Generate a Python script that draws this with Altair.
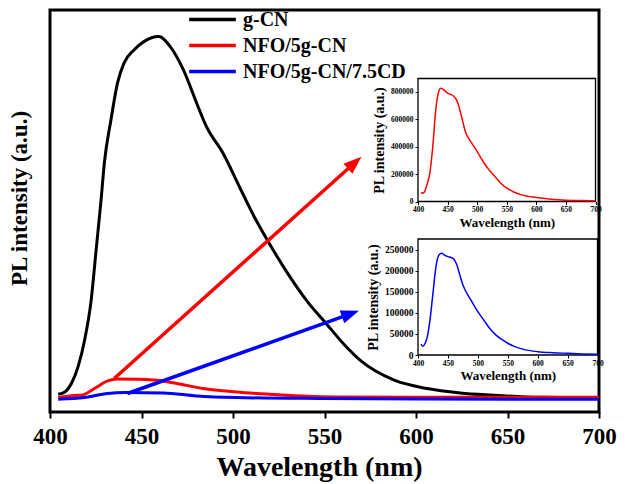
import altair as alt
import pandas as pd

FONT = "Liberation Serif"

series_names = ["g-CN", "NFO/5g-CN", "NFO/5g-CN/7.5CD"]
series_colors = ["#000000", "#ff0000", "#0000ff"]

# main panel (a.u.)
gcn_wl = [404.5, 408.1, 411.7, 415.3, 418.9, 422.5, 425.2, 427.9, 429.7, 433.3, 436.9, 440.5,
          445.9, 451.3, 459.4, 465.7, 472.9, 480.1, 485.5, 494.5, 503.5, 511.6, 519.7, 530.5,
          541.3, 550.3, 561.1, 570.1, 588.1, 606.0, 624.1, 642.1, 660.0, 678.0, 697.8, 700.0]
gcn_pl = [193000, 292000, 654000, 1367000, 2516000, 4236000, 6386000, 8536000, 10127000,
          11976000, 13567000, 14427000, 14986000, 15342000, 15557000, 15127000, 14126000,
          12707000, 11687000, 10557000, 9107000, 7817000, 6687000, 5311000, 4107000, 3290000,
          2301000, 1613000, 796000, 439000, 249000, 151000, 77000, 52000, 22000, 22000]

nfo_wl = [404.5, 413.5, 417.1, 424.3, 431.5, 436.9, 447.7, 458.5, 469.3, 483.7, 501.6, 519.7,
          537.7, 555.7, 600.0, 650.0, 700.0]
nfo_pl = [52000, 140000, 150000, 439000, 765000, 851000, 838000, 796000, 654000, 439000,
          292000, 194000, 120000, 77000, 64000, 64000, 64000]

cd_wl = [404.5, 418.9, 431.5, 440.5, 462.1, 480.1, 501.6, 550.0, 600.0, 700.0]
cd_pl = [-21000, 52000, 224000, 267000, 249000, 120000, 52000, 9000, -15000, -21000]

# insets
inset_nfo_wl = [405, 410, 415, 420, 425, 430, 435, 438.5, 445, 450, 455, 460, 465, 470, 475,
                480, 490, 500, 510, 520, 530, 540, 550, 560, 575, 600, 625, 650, 675, 700]
inset_nfo_pl = [60600, 65000, 121000, 206000, 400000, 667000, 800000, 824000, 807000, 788000,
                780000, 768000, 739000, 679000, 594000, 509000, 430000, 364000, 291000, 230000,
                182000, 133000, 97000, 73000, 48000, 29000, 17000, 10000, 7000, 5000]

inset_cd_wl = [405, 408, 412, 415, 420, 425, 430, 435, 439.5, 445, 450, 455, 460, 465, 470, 475,
               480, 490, 500, 510, 520, 530, 540, 550, 560, 575, 600, 625, 650, 675, 700]
inset_cd_pl = [26000, 21000, 28000, 40000, 83000, 147000, 210000, 238000, 242000, 237000,
               234000, 232000, 228000, 214000, 190000, 167000, 151000, 127000, 103000, 83000,
               63000, 48000, 37000, 28000, 21000, 14000, 8000, 5500, 4000, 2500, 1500]

x_ticks = [400, 450, 500, 550, 600, 650, 700]
inset_nfo_yticks = [0, 200000, 400000, 600000, 800000]
inset_cd_yticks = [0, 50000, 100000, 150000, 200000, 250000]

# arrows (main-panel data units)
arrow_wl_start = [435.1, 442.3]
arrow_pl_start = [869000, 224000]
arrow_wl_head = [566.5, 564.2]
arrow_pl_head = [10140000, 3646000]
arrow_angle = [48.4, 70.5]
arrow_color = ["#ff0000", "#0000ff"]

W, H = 549, 402
HEAD = "M0,-1L0.75,1L-0.75,1Z"

rows = []
for name, wl, pl in zip(series_names, [gcn_wl, nfo_wl, cd_wl], [gcn_pl, nfo_pl, cd_pl]):
    for a, b in zip(wl, pl):
        rows.append({"wl": a, "pl": b, "sample": name})
main_df = pd.DataFrame(rows)

x_main = alt.X("wl:Q", scale=alt.Scale(domain=[400, 700], nice=False, zero=False),
               axis=alt.Axis(values=x_ticks, format="d", title="Wavelength (nm)", domain=False,
                             grid=False, tickSize=6, tickWidth=2, tickColor="black",
                             labelFont=FONT, labelFontSize=23, labelFontWeight="bold",
                             labelColor="black", labelPadding=7, labelFlush=False,
                             labelOverlap=False, titleFont=FONT, titleFontSize=28,
                             titleFontWeight="bold", titleColor="black", titlePadding=5,
                             titleX=269))
y_main = alt.Y("pl:Q", scale=alt.Scale(domain=[-570000, 16700000], nice=False, zero=False),
               axis=alt.Axis(title="PL intensity (a.u.)", labels=False, ticks=False,
                             domain=False, grid=False, titleFont=FONT, titleFontSize=23,
                             titleFontWeight="bold", titleColor="black", titlePadding=19,
                             titleY=188))

main_lines = alt.Chart(main_df).mark_line(strokeWidth=3, interpolate="monotone").encode(
    x=x_main, y=y_main,
    color=alt.Color("sample:N", scale=alt.Scale(domain=series_names, range=series_colors),
                    legend=alt.Legend(orient="none", legendX=147, legendY=-6, title=None,
                                      symbolType="M-1.75,0H1.75", symbolSize=711,
                                      symbolStrokeWidth=3.5, labelFont=FONT, labelFontSize=20,
                                      labelFontWeight="bold", labelColor="black", labelOffset=15,
                                      labelLimit=400, rowPadding=0, padding=0)),
)

main_layers = [main_lines]
for i in range(2):
    adf = pd.DataFrame({"wl": [arrow_wl_start[i], arrow_wl_head[i]],
                        "pl": [arrow_pl_start[i], arrow_pl_head[i]]})
    main_layers.append(alt.Chart(adf).mark_line(color=arrow_color[i], strokeWidth=3.5)
                       .encode(x="wl:Q", y="pl:Q"))
    hdf = pd.DataFrame({"wl": [arrow_wl_head[i]], "pl": [arrow_pl_head[i]]})
    main_layers.append(alt.Chart(hdf).mark_point(shape=HEAD, filled=True, size=324,
                                                 angle=arrow_angle[i], color=arrow_color[i],
                                                 opacity=1, strokeWidth=0)
                       .encode(x="wl:Q", y="pl:Q"))
main_chart = alt.layer(*main_layers)


def inset(wl, pl, color, xr, yr, ydom, yticks, xoff, yoff, ylab):
    df = pd.DataFrame({"wl": wl, "pl": pl})
    line = alt.Chart(df).mark_line(color=color, strokeWidth=1.5, interpolate="monotone").encode(
        x=alt.X("wl:Q", scale=alt.Scale(domain=[400, 700], range=xr, nice=False, zero=False),
                axis=alt.Axis(orient="bottom", offset=xoff, values=x_ticks, format="d",
                              title="Wavelength (nm)", grid=False, domain=False, tickSize=3,
                              tickWidth=1, tickColor="black", labelFont=FONT, labelFontSize=7.5,
                              labelFontWeight="bold", labelColor="black", labelPadding=1,
                              labelFlush=False, labelOverlap=False, titleFont=FONT,
                              titleFontSize=13, titleFontWeight="bold", titleColor="black",
                              titlePadding=3)),
        y=alt.Y("pl:Q", scale=alt.Scale(domain=ydom, range=yr, nice=False, zero=False),
                axis=alt.Axis(orient="left", offset=yoff, values=yticks, format="d",
                              title="PL intensity (a.u.)", grid=False, domain=False, tickSize=3,
                              tickWidth=1, tickColor="black", labelFont=FONT,
                              labelFontSize=ylab, labelFontWeight="bold", labelColor="black",
                              labelPadding=2, labelOverlap=False, titleFont=FONT,
                              titleFontSize=14, titleFontWeight="bold", titleColor="black",
                              titlePadding=4)),
    )
    frame = alt.Chart(pd.DataFrame({"k": [0]})).mark_rect(
        fill="transparent", stroke="black", strokeWidth=1.3).encode(
        x=alt.datum(400), x2=alt.datum(700), y=alt.datum(ydom[0]), y2=alt.datum(ydom[1]))
    return alt.layer(frame, line)


inset_nfo = inset(inset_nfo_wl, inset_nfo_pl, "#ff0000", [368, 545.5], [191.5, 68.5],
                  [0, 895000], inset_nfo_yticks, -210.5, -368, 7.5)
inset_cd = inset(inset_cd_wl, inset_cd_pl, "#0000ff", [368, 547.5], [345, 229],
                 [0, 276000], inset_cd_yticks, -57, -368, 9.5)

chart = alt.layer(main_chart, inset_nfo, inset_cd).resolve_scale(
    x="independent", y="independent").properties(
    width=W, height=H,
    autosize=alt.AutoSizeParams(type="none"),
    padding={"left": 42, "top": 2, "right": 18, "bottom": 70},
    background="white",
).configure_view(stroke="black", strokeWidth=3)

chart.save("out.html", embed_options={"renderer": "svg", "actions": False})
